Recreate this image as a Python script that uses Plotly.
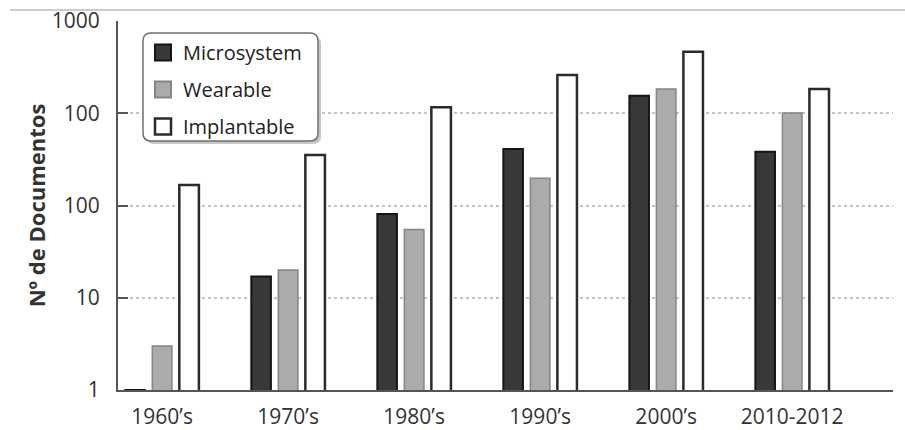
import plotly.graph_objects as go

# Document counts per decade, by device type
decades = ["1960’s", "1970’s", "1980’s", "1990’s", "2000’s", "2010-2012"]
microsystem = [1, 17, 81, 410, 1550, 383]
wearable = [3, 20, 55, 197, 1830, 1005]
implantable = [167, 353, 1161, 2600, 4650, 1830]

tick_vals = [1, 10, 100, 1000, 10000]
tick_text = ["1", "10", "100", "100", "1000"]

FONT = "Open Sans"
W, H = 905, 430
L, R, T, B = 118, 12, 21, 40
PW, PH = W - L - R, H - T - B


def px_to_paper(px, py):
    return (px - L) / PW, (H - B - py) / PH


def rounded_rect(x0, y0, x1, y1, r):
    def p(x, y):
        a, b = px_to_paper(x, y)
        return f"{a:.5f},{b:.5f}"
    return (
        f"M{p(x0 + r, y0)} L{p(x1 - r, y0)} Q{p(x1, y0)} {p(x1, y0 + r)} "
        f"L{p(x1, y1 - r)} Q{p(x1, y1)} {p(x1 - r, y1)} "
        f"L{p(x0 + r, y1)} Q{p(x0, y1)} {p(x0, y1 - r)} "
        f"L{p(x0, y0 + r)} Q{p(x0, y0)} {p(x0 + r, y0)} Z"
    )


series = [
    ("Microsystem", microsystem, "#383838", "#151515", 2),
    ("Wearable", wearable, "#ababab", "#858585", 1.5),
    ("Implantable", implantable, "#ffffff", "#2b2b2b", 2.5),
]

fig = go.Figure()
for name, vals, fill, edge, lw in series:
    fig.add_trace(go.Bar(
        x=decades, y=vals, name=name, showlegend=False, legendgroup=name,
        marker=dict(color=fill, line=dict(color=edge, width=lw)),
    ))
for name, vals, fill, edge, lw in series:
    fig.add_trace(go.Scatter(
        x=[None], y=[None], mode="markers", name=name, legendgroup=name,
        marker=dict(symbol="square", size=16, color=fill,
                    line=dict(color=edge, width=max(lw, 2))),
    ))

# legend frame with a soft shadow
shadow = rounded_rect(146, 36, 321, 144, 8)
frame = rounded_rect(143, 33, 318, 141, 8)
tx0, ty0 = px_to_paper(10, 10)
tx1, _ = px_to_paper(905, 10)

fig.update_layout(
    width=W, height=H,
    margin=dict(l=L, r=R, t=T, b=B, autoexpand=False),
    paper_bgcolor="white", plot_bgcolor="white",
    font=dict(family=FONT, size=21, color="#333333"),
    barmode="group", bargap=0.357, bargroupgap=0.275,
    showlegend=True,
    legend=dict(
        x=px_to_paper(143, 0)[0], y=px_to_paper(0, 33)[1],
        xanchor="left", yanchor="top",
        bgcolor="rgba(0,0,0,0)", borderwidth=0,
        font=dict(family=FONT, size=20, color="#222222"),
        traceorder="grouped", tracegroupgap=8,
    ),
    xaxis=dict(
        type="category", range=[-0.35, 5.8], automargin=False,
        showline=True, linecolor="#555555", linewidth=2,
        ticks="", showgrid=False,
        tickfont=dict(family=FONT, size=21, color="#333333"),
        ticklabelstandoff=7,
    ),
    yaxis=dict(
        type="log", range=[0, 4], automargin=False,
        tickvals=tick_vals, ticktext=tick_text,
        showline=True, linecolor="#555555", linewidth=2,
        ticks="inside", ticklen=10, tickwidth=2, tickcolor="#555555",
        showgrid=True, gridcolor="#c4c4c4", griddash="dot", gridwidth=1.5,
        zeroline=False,
        tickfont=dict(family=FONT, size=21, color="#333333"),
        ticklabelstandoff=12,
        title=dict(text="<b>Nº de Documentos</b>",
                   font=dict(family=FONT, size=22, color="#333333"),
                   standoff=0),
    ),
    shapes=[
        dict(type="line", xref="paper", yref="paper", x0=tx0, x1=tx1, y0=ty0, y1=ty0,
             line=dict(color="#bdbdbd", width=1.5)),
        dict(type="path", xref="paper", yref="paper", path=shadow,
             fillcolor="rgba(0,0,0,0.22)", line=dict(width=0), layer="above"),
        dict(type="path", xref="paper", yref="paper", path=frame,
             fillcolor="white", line=dict(color="#6f6f6f", width=1.5), layer="above"),
    ],
)

fig.write_html("out.html")
